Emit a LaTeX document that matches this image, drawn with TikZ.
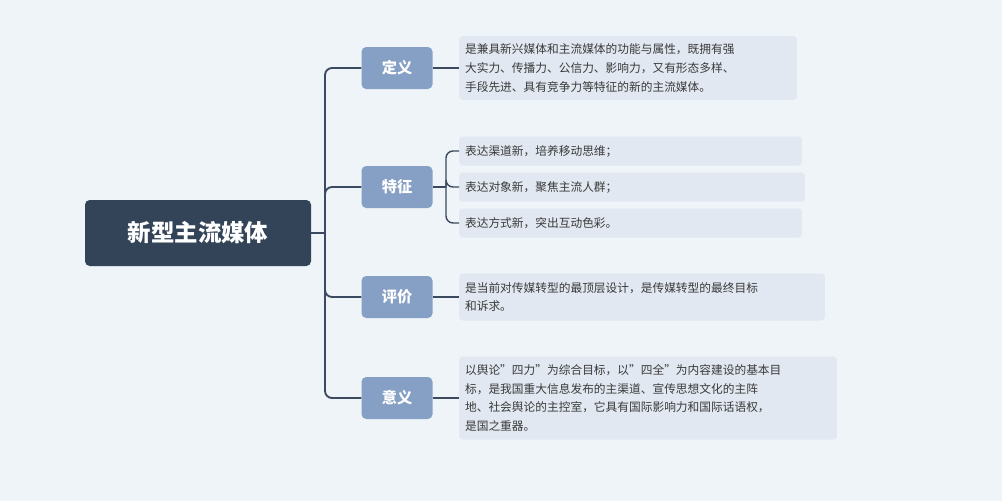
\documentclass[tikz,border=0pt]{standalone}
\usepackage{fontspec}
\setmainfont{Noto Sans CJK SC}
\definecolor{bgc}{HTML}{EEF4F8}
\definecolor{rootc}{HTML}{344458}
\definecolor{branchc}{HTML}{869FC4}
\definecolor{leafc}{HTML}{E1E8F1}
\definecolor{linec}{HTML}{3B4A5E}
\definecolor{textc}{HTML}{3A3A3A}
\tikzset{
  rootbox/.style={fill=rootc, rounded corners=4pt, text=white, font=\fontsize{20}{24}\selectfont\bfseries,
    minimum width=226*0.03cm, minimum height=66*0.03cm},
  branchbox/.style={fill=branchc, rounded corners=4pt, text=white, font=\fontsize{13}{16}\selectfont\bfseries,
    minimum width=71*0.03cm, minimum height=42*0.03cm},
  leafbox/.style={fill=leafc, rounded corners=3pt, text=textc, anchor=west, align=left,
    font=\fontsize{10}{16}\selectfont, inner xsep=5pt, inner ysep=3pt},
  conn/.style={draw=linec, line width=1.6pt, rounded corners=6pt}
}
\begin{document}
\begin{tikzpicture}[x=0.03cm,y=-0.03cm]
  \fill[bgc] (0,0) rectangle (1002,501);
  \useasboundingbox (0,0) rectangle (1002,501);
  \node[rootbox] (root) at (198,233) {新型主流媒体};
  \node[branchbox] (def) at (397,68) {定义};
  \node[branchbox] (feat) at (397,187) {特征};
  \node[branchbox] (eval) at (397,297) {评价};
  \node[branchbox] (mean) at (397,398) {意义};
  % leaves
  \node[leafbox, text width=326*0.03cm, minimum height=64*0.03cm] (ldef) at (459,68)
    {是兼具新兴媒体和主流媒体的功能与属性，既拥有强\\大实力、传播力、公信力、影响力，又有形态多样、\\手段先进、具有竞争力等特征的新的主流媒体。};
  \node[leafbox, text width=331*0.03cm, minimum height=29*0.03cm] (lf1) at (459,151) {表达渠道新，培养移动思维；};
  \node[leafbox, text width=334*0.03cm, minimum height=29*0.03cm] (lf2) at (459,187) {表达对象新，聚焦主流人群；};
  \node[leafbox, text width=331*0.03cm, minimum height=29*0.03cm] (lf3) at (459,223) {表达方式新，突出互动色彩。};
  \node[leafbox, text width=354*0.03cm, minimum height=47*0.03cm] (leval) at (459,297)
    {是当前对传媒转型的最顶层设计，是传媒转型的最终目标\\和诉求。};
  \node[leafbox, text width=366*0.03cm, minimum height=83*0.03cm] (lmean) at (459,398)
    {以舆论"四力"为综合目标，以"四全"为内容建设的基本目\\标，是我国重大信息发布的主渠道、宣传思想文化的主阵\\地、社会舆论的主控室，它具有国际影响力和国际话语权，\\是国之重器。};
  % connectors
  \coordinate (trunk) at (325,233);
  \draw[conn] (root.east) -- (trunk);
  \foreach \b in {def,feat,eval,mean}
    \draw[conn] (trunk) |- (\b.west);
  \draw[conn] (def.east) -- (ldef.west);
  \draw[conn] (eval.east) -- (leval.west);
  \draw[conn] (mean.east) -- (lmean.west);
  \coordinate (fork) at (446,187);
  \draw[conn] (feat.east) -- (fork);
  \foreach \l in {lf1,lf2,lf3}
    \draw[conn, line width=1.2pt] (fork) |- (\l.west);
\end{tikzpicture}
\end{document}
